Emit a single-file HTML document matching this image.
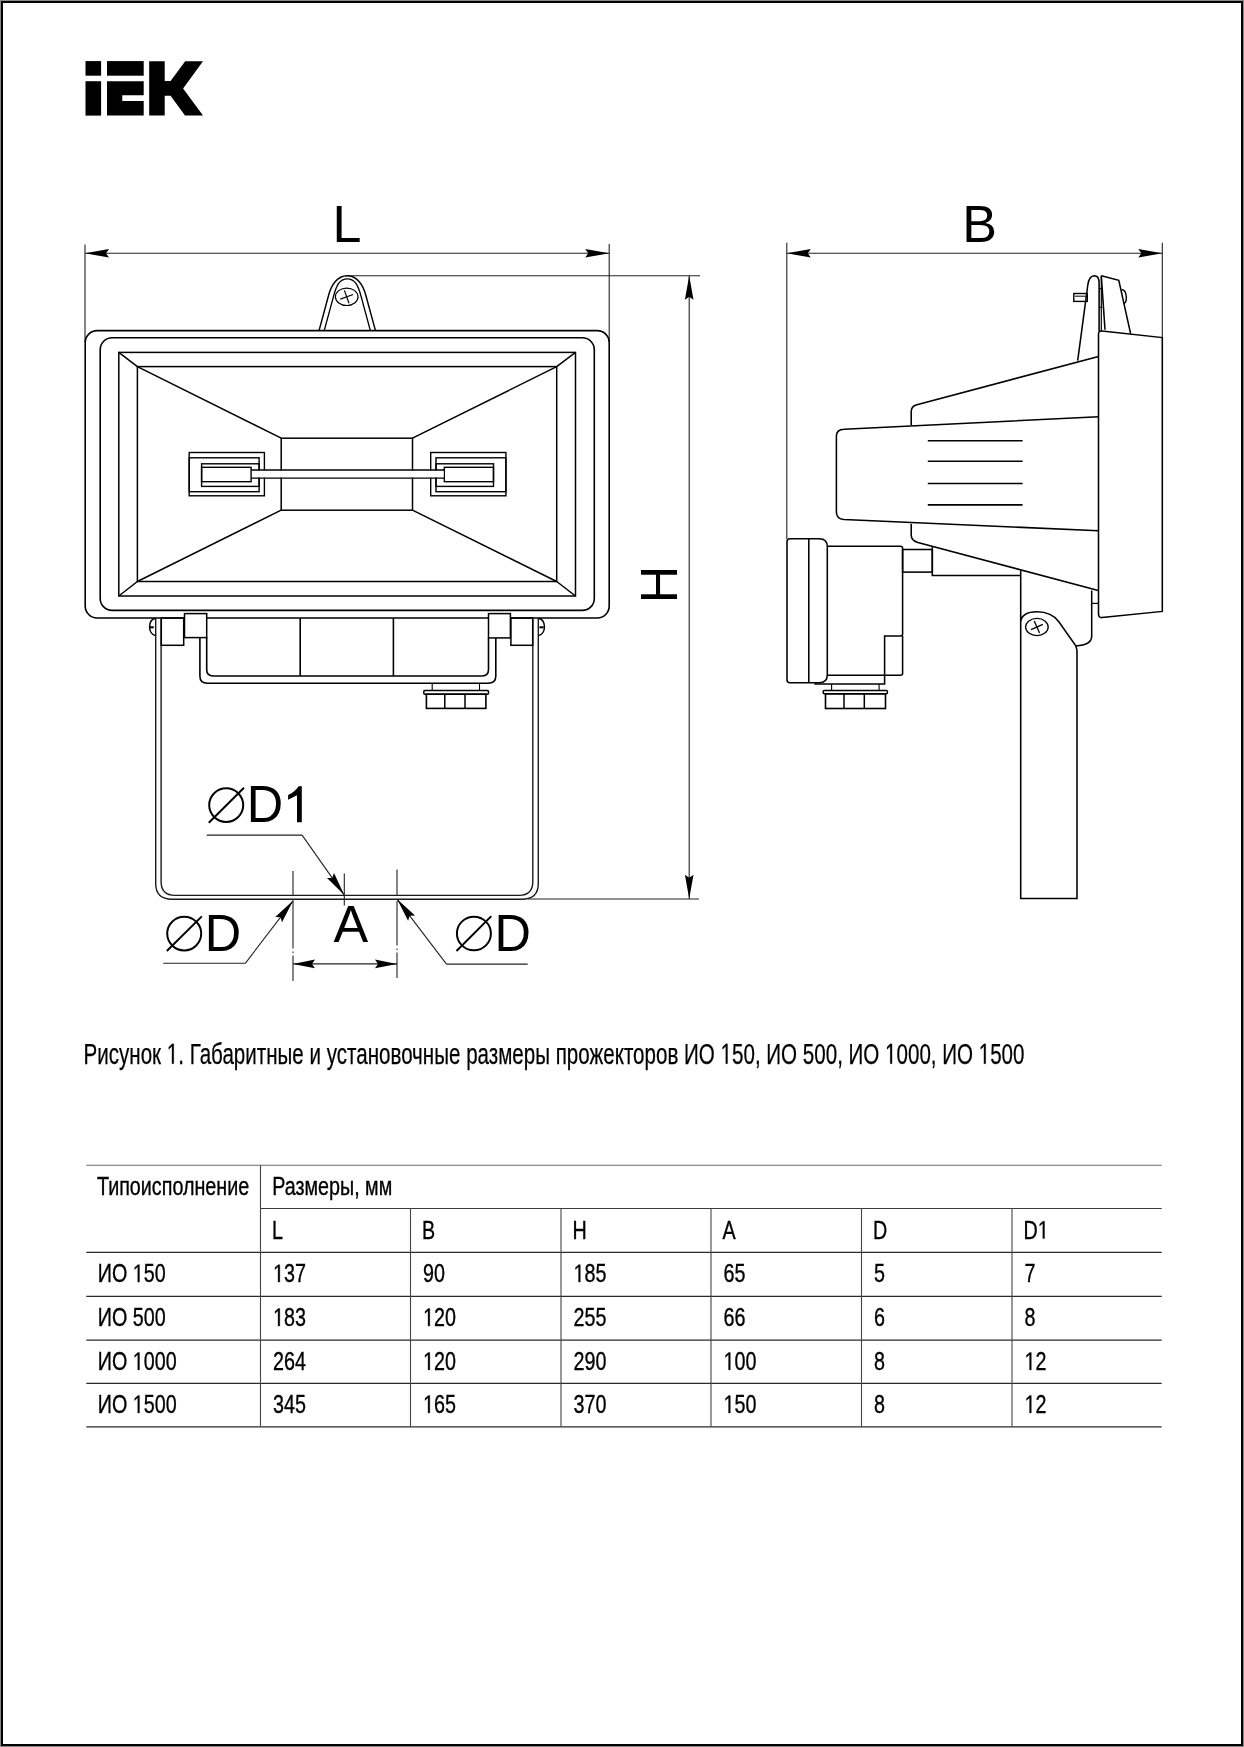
<!DOCTYPE html>
<html><head><meta charset="utf-8"><title>IEK</title>
<style>
html,body{margin:0;padding:0;background:#fff;}
body{width:1244px;height:1747px;overflow:hidden;}
svg{display:block;will-change:transform;}
text{font-family:"Liberation Sans",sans-serif;fill:#000;}
</style></head>
<body>
<svg width="1244" height="1747" viewBox="0 0 1244 1747">
<rect x="0" y="0" width="1244" height="1747" fill="#fff"/>
<!-- frame -->
<rect x="0.5" y="0.5" width="1243" height="1746" fill="none" stroke="#8a8a8a" stroke-width="1"/>
<rect x="2" y="2" width="1240" height="1743" fill="none" stroke="#000" stroke-width="2"/>
<!-- logo -->
<g fill="#000">
<rect x="85.5" y="61.1" width="15.6" height="14.6"/>
<rect x="85.5" y="81.2" width="15.6" height="34.4"/>
<rect x="107" y="61.1" width="36.7" height="14.6"/>
<path d="M107,81.2H143.7V95.3H122.3V101H143.7V115.6H107Z"/>
<path d="M149.2,61.2H164.7V81.1H170.6L185.2,61.2H203L183.1,88.4L203,115.6H185L170.6,95.8H164.7V115.6H149.2Z"/>
</g>
<!--DRAWING-->
<line x1="85" y1="244.5" x2="85" y2="342" stroke="#222" stroke-width="1.1" />
<line x1="609.2" y1="244" x2="609.2" y2="342" stroke="#222" stroke-width="1.1" />
<line x1="85" y1="253.3" x2="609.2" y2="253.3" stroke="#222" stroke-width="1.1" />
<path d="M85.0,253.3L109.0,249.0L106.0,253.3L109.0,257.6Z" fill="#000"/>
<path d="M609.2,253.3L585.2,257.6L588.2,253.3L585.2,249.0Z" fill="#000"/>
<line x1="346.5" y1="275.8" x2="700" y2="275.8" stroke="#222" stroke-width="1.1" />
<line x1="528" y1="899" x2="699" y2="899" stroke="#222" stroke-width="1.1" />
<line x1="689.2" y1="275.8" x2="689.2" y2="899" stroke="#222" stroke-width="1.1" />
<path d="M689.2,275.8L693.5,299.8L689.2,296.8L684.9,299.8Z" fill="#000"/>
<path d="M689.2,898.8L684.9,874.8L689.2,877.8L693.5,874.8Z" fill="#000"/>
<path d="M319.1,330.4 L328.6,295.3 C331.2,285.3 337.2,275.8 347.2,275.8 C357.2,275.8 363.2,285.3 365.8,295.3 L375.4,330.4" stroke="#000" stroke-width="1.45" fill="none" />
<path d="M324.3,330.4 L333.6,296.1 C336.3,286.1 339.3,278.8 347.3,278.8 C355.3,278.8 358.3,286.1 361,296.1 L370.3,330.4" stroke="#000" stroke-width="1.35" fill="none" />
<ellipse cx="346.7" cy="296.8" rx="11.3" ry="8.7" fill="#fff" stroke="none"/>
<ellipse cx="346.7" cy="296.8" rx="11.3" ry="8.7" stroke="#000" stroke-width="1.2" fill="none"/>
<line x1="340.3" y1="299.1" x2="353.1" y2="294.5" stroke="#000" stroke-width="1.2" />
<line x1="344.4" y1="290.4" x2="349.0" y2="303.2" stroke="#000" stroke-width="1.2" />
<rect x="85.2" y="330.6" width="524.0" height="287.4" rx="12" stroke="#000" stroke-width="1.6" fill="none"/>
<rect x="100.2" y="337.7" width="494.1" height="272.7" rx="12" stroke="#000" stroke-width="1.6" fill="none"/>
<rect x="118.8" y="352.4" width="456.7" height="243.6" rx="0" stroke="#000" stroke-width="1.5" fill="none"/>
<rect x="137.4" y="366.6" width="419.3" height="214.9" rx="0" stroke="#000" stroke-width="1.5" fill="none"/>
<line x1="118.8" y1="352.4" x2="137.4" y2="366.6" stroke="#000" stroke-width="1.5" />
<line x1="575.5" y1="352.4" x2="556.7" y2="366.6" stroke="#000" stroke-width="1.5" />
<line x1="118.8" y1="596" x2="137.4" y2="581.5" stroke="#000" stroke-width="1.5" />
<line x1="575.5" y1="596" x2="556.7" y2="581.5" stroke="#000" stroke-width="1.5" />
<rect x="281.2" y="438.2" width="131.3" height="72.0" rx="0" stroke="#000" stroke-width="1.5" fill="none"/>
<line x1="137.4" y1="366.6" x2="281.2" y2="438.2" stroke="#000" stroke-width="1.5" />
<line x1="556.7" y1="366.6" x2="412.5" y2="438.2" stroke="#000" stroke-width="1.5" />
<line x1="137.4" y1="581.5" x2="281.2" y2="510.2" stroke="#000" stroke-width="1.5" />
<line x1="556.7" y1="581.5" x2="412.5" y2="510.2" stroke="#000" stroke-width="1.5" />
<rect x="189.2" y="452.5" width="75.2" height="43.3" rx="0" stroke="#000" stroke-width="1.4" fill="none"/>
<rect x="189.2" y="457.8" width="69.9" height="33.9" rx="0" stroke="#000" stroke-width="1.4" fill="none"/>
<rect x="201.6" y="463.8" width="57.5" height="22.6" rx="0" stroke="#000" stroke-width="1.4" fill="none"/>
<rect x="201.6" y="467.3" width="49.5" height="14.4" rx="0" stroke="#000" stroke-width="1.4" fill="none"/>
<rect x="430.7" y="452.5" width="75.2" height="43.3" rx="0" stroke="#000" stroke-width="1.4" fill="none"/>
<rect x="436.0" y="457.8" width="69.9" height="33.9" rx="0" stroke="#000" stroke-width="1.4" fill="none"/>
<rect x="436.0" y="463.8" width="57.5" height="22.6" rx="0" stroke="#000" stroke-width="1.4" fill="none"/>
<rect x="444.3" y="467.3" width="49.2" height="14.4" rx="0" stroke="#000" stroke-width="1.4" fill="none"/>
<rect x="252" y="470.5" width="191.5" height="7.1" fill="#fff"/>
<line x1="251.1" y1="470" x2="444.3" y2="470" stroke="#000" stroke-width="1.4" />
<line x1="251.1" y1="478.1" x2="444.3" y2="478.1" stroke="#000" stroke-width="1.4" />
<path d="M155.5,618.3 C147.6,620 147.6,634 155.5,635.6" stroke="#000" stroke-width="1.5" fill="none" />
<rect x="149.6" y="626.3" width="4.2" height="2.0" fill="#000"/>
<path d="M538.5,618.3 C546.4,620 546.4,634 538.5,635.6" stroke="#000" stroke-width="1.5" fill="none" />
<rect x="539.4" y="626.3" width="4.2" height="2.0" fill="#000"/>
<path d="M155.7,618 V883.5 Q155.7,899.2 172,899.2 H522 Q538.3,899.2 538.3,883.5 V618" stroke="#1a1a1a" stroke-width="1.4" fill="none" />
<path d="M161.1,618 V881.5 Q161.1,895.4 175,895.4 H519 Q532.8,895.4 532.8,881.5 V618" stroke="#1a1a1a" stroke-width="1.4" fill="none" />
<rect x="161.3" y="618" width="22.4" height="27.3" rx="0" stroke="#000" stroke-width="1.5" fill="none"/>
<rect x="184.5" y="613.6" width="22.2" height="24.0" rx="0" stroke="#000" stroke-width="1.5" fill="#fff"/>
<rect x="488.5" y="613.6" width="21.9" height="24.3" rx="0" stroke="#000" stroke-width="1.5" fill="#fff"/>
<rect x="510.9" y="618" width="21.8" height="27.3" rx="0" stroke="#000" stroke-width="1.5" fill="none"/>
<path d="M199.9,637.6 V676 Q199.9,683.3 207.5,683.3 H488 Q495.8,683.3 495.8,676 V637.9" stroke="#000" stroke-width="1.6" fill="none" />
<path d="M206.7,637.6 V669.5 Q206.7,676 213.2,676 H482 Q488.5,676 488.5,669.5 V637.9" stroke="#000" stroke-width="1.6" fill="none" />
<line x1="300.2" y1="618" x2="300.2" y2="676" stroke="#000" stroke-width="1.6" />
<line x1="393.4" y1="618" x2="393.4" y2="676" stroke="#000" stroke-width="1.6" />
<line x1="432.2" y1="683.3" x2="432.2" y2="690.4" stroke="#000" stroke-width="1.1" />
<line x1="479.5" y1="683.3" x2="479.5" y2="690.4" stroke="#000" stroke-width="1.1" />
<rect x="423.8" y="690.4" width="64.7" height="3.8" rx="1" stroke="#000" stroke-width="1.5" fill="none"/>
<rect x="426.4" y="694.2" width="59.5" height="14.2" rx="0" stroke="#000" stroke-width="1.6" fill="none"/>
<line x1="444.8" y1="694.2" x2="444.8" y2="708.4" stroke="#000" stroke-width="1.5" />
<line x1="465.0" y1="694.2" x2="465.0" y2="708.4" stroke="#000" stroke-width="1.5" />
<ellipse cx="226.2" cy="805.1" rx="17.0" ry="16.8" stroke="#000" stroke-width="2.0" fill="none"/>
<line x1="208.8" y1="822.8" x2="244.0" y2="787.8" stroke="#000" stroke-width="2.0" />
<text transform="translate(246.7,822.3) scale(0.97,1)" font-size="52">D</text>
<path d="M301.8,786.2 V822.3 H297 V795.2 L288.1,799.7 V795.0 C293,792.6 296.5,789.8 298.6,786.2 Z" fill="#000"/>
<line x1="206.7" y1="835.1" x2="302.1" y2="835.1" stroke="#222" stroke-width="1.1" />
<line x1="302.1" y1="835.1" x2="344.3" y2="895.1" stroke="#222" stroke-width="1.1" />
<path d="M344.3,895.1L327.0,877.9L332.2,877.9L334.0,873.0Z" fill="#000"/>
<line x1="344.3" y1="873.4" x2="344.3" y2="905.6" stroke="#222" stroke-width="1.1" />
<ellipse cx="184.2" cy="933.6" rx="17.0" ry="16.8" stroke="#000" stroke-width="2.0" fill="none"/>
<line x1="166.8" y1="951.0" x2="201.8" y2="916.4" stroke="#000" stroke-width="2.0" />
<text transform="translate(204.8,951.0) scale(0.97,1)" font-size="52">D</text>
<line x1="163.3" y1="963.3" x2="245.3" y2="963.3" stroke="#222" stroke-width="1.1" />
<line x1="245.3" y1="963.3" x2="293.2" y2="900.6" stroke="#222" stroke-width="1.1" />
<path d="M293.2,900.6L282.0,922.3L280.5,917.3L275.2,917.1Z" fill="#000"/>
<ellipse cx="473.9" cy="933.5" rx="17.0" ry="16.8" stroke="#000" stroke-width="2.0" fill="none"/>
<line x1="456.5" y1="951.0" x2="491.3" y2="916.1" stroke="#000" stroke-width="2.0" />
<text transform="translate(494.4,951.0) scale(0.97,1)" font-size="52">D</text>
<line x1="446.5" y1="964.1" x2="527.7" y2="964.1" stroke="#222" stroke-width="1.1" />
<line x1="397" y1="899.1" x2="446.5" y2="964.1" stroke="#222" stroke-width="1.1" />
<path d="M397.0,899.1L415.0,915.6L409.7,915.8L408.1,920.8Z" fill="#000"/>
<text transform="translate(333.5,941.8) scale(1.0,1)" font-size="52">A</text>
<line x1="293" y1="963.9" x2="397" y2="963.9" stroke="#222" stroke-width="1.1" />
<path d="M293.0,963.9L315.0,959.6L312.0,963.9L315.0,968.2Z" fill="#000"/>
<path d="M397.0,963.9L375.0,968.2L378.0,963.9L375.0,959.6Z" fill="#000"/>
<line x1="293" y1="871" x2="293" y2="896" stroke="#222" stroke-width="1.1" />
<line x1="293" y1="900.5" x2="293" y2="948.5" stroke="#222" stroke-width="1.1" />
<line x1="293" y1="951.5" x2="293" y2="953" stroke="#222" stroke-width="1.1" />
<line x1="293" y1="955.5" x2="293" y2="981" stroke="#222" stroke-width="1.1" />
<line x1="397" y1="869.4" x2="397" y2="896" stroke="#222" stroke-width="1.1" />
<line x1="397" y1="901" x2="397" y2="945.5" stroke="#222" stroke-width="1.1" />
<line x1="397" y1="948.5" x2="397" y2="950" stroke="#222" stroke-width="1.1" />
<line x1="397" y1="952.5" x2="397" y2="978" stroke="#222" stroke-width="1.1" />
<text transform="translate(332.5,241.6) scale(1.0,1)" font-size="52">L</text>
<text x="0" y="0" font-size="52" transform="translate(677,603.2) rotate(-90)">H</text>
<line x1="786.8" y1="242.7" x2="786.8" y2="539" stroke="#222" stroke-width="1.1" />
<line x1="1162.3" y1="242.7" x2="1162.3" y2="338" stroke="#222" stroke-width="1.1" />
<line x1="786.8" y1="253.3" x2="1162.3" y2="253.3" stroke="#222" stroke-width="1.1" />
<path d="M786.8,253.3L810.8,249.0L807.8,253.3L810.8,257.6Z" fill="#000"/>
<path d="M1162.3,253.3L1138.3,257.6L1141.3,253.3L1138.3,249.0Z" fill="#000"/>
<text transform="translate(962.3,241.6) scale(1.0,1)" font-size="52">B</text>
<path d="M1098.5,334 Q1098.5,330.8 1102,331 L1162.3,337.6 V611.4 L1102,617.6 Q1098.5,617.8 1098.5,614 Z" stroke="#000" stroke-width="1.55" fill="none" />
<path d="M911.2,424.9 V412 Q911.2,406.5 916,405 L1098.5,356.4" stroke="#000" stroke-width="1.55" fill="none" />
<path d="M844.1,429.2 L1098.5,416.7 M1098.5,530.7 L844,519.6 Q836.4,519 836.4,512 V436 Q836.4,429.5 844.1,429.2" stroke="#000" stroke-width="1.55" fill="none" />
<line x1="927.8" y1="440.8" x2="1022.6" y2="440.8" stroke="#000" stroke-width="1.6" />
<line x1="927.8" y1="461.3" x2="1022.6" y2="461.3" stroke="#000" stroke-width="1.6" />
<line x1="927.8" y1="483.5" x2="1022.6" y2="483.5" stroke="#000" stroke-width="1.6" />
<line x1="927.8" y1="504.9" x2="1022.6" y2="504.9" stroke="#000" stroke-width="1.6" />
<path d="M911.2,523.7 V535.3 Q911.2,540.5 917.9,542.5 L1098.3,590.5" stroke="#000" stroke-width="1.55" fill="none" />
<rect x="902.6" y="549.5" width="29.7" height="22.6" rx="0" stroke="#000" stroke-width="1.55" fill="none"/>
<path d="M932.3,547.1 V575.4 H1020.7" stroke="#000" stroke-width="1.55" fill="none" />
<path d="M790,538.8 H819.3 Q827.3,538.8 827.3,546.8 V674.7 Q827.3,682.7 819.3,682.7 H790 Q787,682.7 787,679.7 V541.8 Q787,538.8 790,538.8 Z" stroke="#000" stroke-width="1.55" fill="none" />
<line x1="808.8" y1="538.8" x2="808.8" y2="682.7" stroke="#000" stroke-width="1.55" />
<path d="M827.3,546.2 H900.6 Q902.6,546.2 902.6,548.2 V633.9 Q902.6,635.9 900.6,635.9 H884.6 V684 H814.4" stroke="#000" stroke-width="1.55" fill="none" />
<path d="M902.6,635.9 V673.3 Q902.6,675.3 900.6,675.3 H827.3" stroke="#000" stroke-width="1.55" fill="none" />
<line x1="831.6" y1="684" x2="831.6" y2="690.4" stroke="#000" stroke-width="1.1" />
<line x1="879.1" y1="684" x2="879.1" y2="690.4" stroke="#000" stroke-width="1.1" />
<rect x="823.2" y="690.4" width="64.2" height="3.4" rx="1" stroke="#000" stroke-width="1.5" fill="none"/>
<rect x="825.5" y="693.8" width="60.0" height="14.7" rx="0" stroke="#000" stroke-width="1.6" fill="none"/>
<line x1="844" y1="693.8" x2="844" y2="708.5" stroke="#000" stroke-width="1.5" />
<line x1="864.3" y1="693.8" x2="864.3" y2="708.5" stroke="#000" stroke-width="1.5" />
<path d="M1077.7,360.7 L1087.8,285 Q1089,276 1094.5,275.8 Q1099.1,276 1099.1,283 V331" stroke="#000" stroke-width="1.55" fill="none" />
<line x1="1101.3" y1="276" x2="1101.3" y2="331" stroke="#000" stroke-width="1.2" />
<path d="M1101.3,275.8 L1118.8,280.3 L1130.6,333.7" stroke="#000" stroke-width="1.55" fill="none" />
<line x1="1101.3" y1="275.8" x2="1105" y2="329.8" stroke="#000" stroke-width="1.55" />
<line x1="1099.1" y1="288.7" x2="1102.3" y2="288.7" stroke="#000" stroke-width="1.1" />
<line x1="1099.1" y1="307.3" x2="1102.3" y2="307.3" stroke="#000" stroke-width="1.1" />
<rect x="1073.8" y="293.5" width="13.5" height="7.9" rx="0" stroke="#000" stroke-width="1.4" fill="none"/>
<line x1="1075" y1="296.2" x2="1087.3" y2="296.2" stroke="#000" stroke-width="1.0" />
<path d="M1121.6,289.5 C1127.5,290 1127.5,303 1123.5,303.5" stroke="#000" stroke-width="1.4" fill="none" />
<path d="M1020.7,570.7 V898.5 H1077 V650.3 L1075.8,645.9 L1059,622 C1054,615 1047,611.8 1037,611.8 C1028,611.8 1021.5,615 1020.7,622" stroke="#000" stroke-width="1.55" fill="none" />
<path d="M1075.8,645.9 Q1091.7,645 1091.7,636.2 V590.5" stroke="#000" stroke-width="1.55" fill="none" />
<line x1="1091.7" y1="603.4" x2="1098.3" y2="603.4" stroke="#000" stroke-width="1.2" />
<ellipse cx="1036.9" cy="627" rx="11.3" ry="8.6" stroke="#000" stroke-width="1.3" fill="none"/>
<line x1="1031.0" y1="629.7" x2="1042.8" y2="624.3" stroke="#000" stroke-width="1.3" />
<line x1="1034.2" y1="621.1" x2="1039.6" y2="632.9" stroke="#000" stroke-width="1.3" />
<!--TABLE-->
<line x1="86.3" y1="1165.3" x2="1161.7" y2="1165.3" stroke="#6a6a6a" stroke-width="1.1"/>
<line x1="260.5" y1="1208.5" x2="1161.7" y2="1208.5" stroke="#3a3a3a" stroke-width="1.1"/>
<line x1="86.3" y1="1252.4" x2="1161.7" y2="1252.4" stroke="#2a2a2a" stroke-width="1.2"/>
<line x1="86.3" y1="1296.3" x2="1161.7" y2="1296.3" stroke="#2a2a2a" stroke-width="1.2"/>
<line x1="86.3" y1="1340.2" x2="1161.7" y2="1340.2" stroke="#2a2a2a" stroke-width="1.2"/>
<line x1="86.3" y1="1383.3" x2="1161.7" y2="1383.3" stroke="#2a2a2a" stroke-width="1.2"/>
<line x1="86.3" y1="1426.8" x2="1161.7" y2="1426.8" stroke="#2a2a2a" stroke-width="1.2"/>
<line x1="260.5" y1="1165.3" x2="260.5" y2="1426.8" stroke="#444" stroke-width="1.1"/>
<line x1="410.5" y1="1208.5" x2="410.5" y2="1426.8" stroke="#444" stroke-width="1.1"/>
<line x1="561" y1="1208.5" x2="561" y2="1426.8" stroke="#444" stroke-width="1.1"/>
<line x1="711" y1="1208.5" x2="711" y2="1426.8" stroke="#444" stroke-width="1.1"/>
<line x1="861.5" y1="1208.5" x2="861.5" y2="1426.8" stroke="#444" stroke-width="1.1"/>
<line x1="1012" y1="1208.5" x2="1012" y2="1426.8" stroke="#444" stroke-width="1.1"/>
<text id="tx0" transform="translate(97.0,1194.9) scale(0.778,1)" font-size="25.35" stroke="#000" stroke-width="0.35">Типоисполнение</text>

<text id="tx1" transform="translate(272.2,1194.9) scale(0.778,1)" font-size="25.35" stroke="#000" stroke-width="0.35">Размеры, мм</text>

<text id="tx2" transform="translate(272.1,1238.6) scale(0.778,1)" font-size="25.35" stroke="#000" stroke-width="0.35">L</text>

<text id="tx3" transform="translate(422.1,1238.6) scale(0.778,1)" font-size="25.35" stroke="#000" stroke-width="0.35">B</text>

<text id="tx4" transform="translate(572.6,1238.6) scale(0.778,1)" font-size="25.35" stroke="#000" stroke-width="0.35">H</text>

<text id="tx5" transform="translate(722.6,1238.6) scale(0.778,1)" font-size="25.35" stroke="#000" stroke-width="0.35">A</text>

<text id="tx6" transform="translate(873.1,1238.6) scale(0.778,1)" font-size="25.35" stroke="#000" stroke-width="0.35">D</text>

<text id="tx7" transform="translate(1023.6,1238.6) scale(0.778,1)" font-size="25.35" stroke="#000" stroke-width="0.35">D </text>
<path transform="translate(1023.6,1238.6) scale(0.778,1) translate(18.295,0.000) scale(0.012378,-0.012378)" d="M515,0 L515,1237 L197,1010 L197,1180 L530,1409 L696,1409 L696,0 Z" fill="#000" stroke="#000" stroke-width="28.3"/>
<text id="tx8" transform="translate(97.8,1282.1000000000001) scale(0.778,1)" font-size="25.35" stroke="#000" stroke-width="0.35">ИО  50</text>
<path transform="translate(97.8,1282.1000000000001) scale(0.778,1) translate(44.962,0.000) scale(0.012378,-0.012378)" d="M515,0 L515,1237 L197,1010 L197,1180 L530,1409 L696,1409 L696,0 Z" fill="#000" stroke="#000" stroke-width="28.3"/>
<text id="tx9" transform="translate(273.1,1282.1000000000001) scale(0.778,1)" font-size="25.35" stroke="#000" stroke-width="0.35"> 37</text>
<path transform="translate(273.1,1282.1000000000001) scale(0.778,1) translate(0.000,0.000) scale(0.012378,-0.012378)" d="M515,0 L515,1237 L197,1010 L197,1180 L530,1409 L696,1409 L696,0 Z" fill="#000" stroke="#000" stroke-width="28.3"/>
<text id="tx10" transform="translate(423.1,1282.1000000000001) scale(0.778,1)" font-size="25.35" stroke="#000" stroke-width="0.35">90</text>

<text id="tx11" transform="translate(573.6,1282.1000000000001) scale(0.778,1)" font-size="25.35" stroke="#000" stroke-width="0.35"> 85</text>
<path transform="translate(573.6,1282.1000000000001) scale(0.778,1) translate(0.000,0.000) scale(0.012378,-0.012378)" d="M515,0 L515,1237 L197,1010 L197,1180 L530,1409 L696,1409 L696,0 Z" fill="#000" stroke="#000" stroke-width="28.3"/>
<text id="tx12" transform="translate(723.6,1282.1000000000001) scale(0.778,1)" font-size="25.35" stroke="#000" stroke-width="0.35">65</text>

<text id="tx13" transform="translate(874.1,1282.1000000000001) scale(0.778,1)" font-size="25.35" stroke="#000" stroke-width="0.35">5</text>

<text id="tx14" transform="translate(1024.6,1282.1000000000001) scale(0.778,1)" font-size="25.35" stroke="#000" stroke-width="0.35">7</text>

<text id="tx15" transform="translate(97.8,1326.0) scale(0.778,1)" font-size="25.35" stroke="#000" stroke-width="0.35">ИО 500</text>

<text id="tx16" transform="translate(273.1,1326.0) scale(0.778,1)" font-size="25.35" stroke="#000" stroke-width="0.35"> 83</text>
<path transform="translate(273.1,1326.0) scale(0.778,1) translate(0.000,0.000) scale(0.012378,-0.012378)" d="M515,0 L515,1237 L197,1010 L197,1180 L530,1409 L696,1409 L696,0 Z" fill="#000" stroke="#000" stroke-width="28.3"/>
<text id="tx17" transform="translate(423.1,1326.0) scale(0.778,1)" font-size="25.35" stroke="#000" stroke-width="0.35"> 20</text>
<path transform="translate(423.1,1326.0) scale(0.778,1) translate(0.000,0.000) scale(0.012378,-0.012378)" d="M515,0 L515,1237 L197,1010 L197,1180 L530,1409 L696,1409 L696,0 Z" fill="#000" stroke="#000" stroke-width="28.3"/>
<text id="tx18" transform="translate(573.6,1326.0) scale(0.778,1)" font-size="25.35" stroke="#000" stroke-width="0.35">255</text>

<text id="tx19" transform="translate(723.6,1326.0) scale(0.778,1)" font-size="25.35" stroke="#000" stroke-width="0.35">66</text>

<text id="tx20" transform="translate(874.1,1326.0) scale(0.778,1)" font-size="25.35" stroke="#000" stroke-width="0.35">6</text>

<text id="tx21" transform="translate(1024.6,1326.0) scale(0.778,1)" font-size="25.35" stroke="#000" stroke-width="0.35">8</text>

<text id="tx22" transform="translate(97.8,1369.9) scale(0.778,1)" font-size="25.35" stroke="#000" stroke-width="0.35">ИО  000</text>
<path transform="translate(97.8,1369.9) scale(0.778,1) translate(44.962,0.000) scale(0.012378,-0.012378)" d="M515,0 L515,1237 L197,1010 L197,1180 L530,1409 L696,1409 L696,0 Z" fill="#000" stroke="#000" stroke-width="28.3"/>
<text id="tx23" transform="translate(273.1,1369.9) scale(0.778,1)" font-size="25.35" stroke="#000" stroke-width="0.35">264</text>

<text id="tx24" transform="translate(423.1,1369.9) scale(0.778,1)" font-size="25.35" stroke="#000" stroke-width="0.35"> 20</text>
<path transform="translate(423.1,1369.9) scale(0.778,1) translate(0.000,0.000) scale(0.012378,-0.012378)" d="M515,0 L515,1237 L197,1010 L197,1180 L530,1409 L696,1409 L696,0 Z" fill="#000" stroke="#000" stroke-width="28.3"/>
<text id="tx25" transform="translate(573.6,1369.9) scale(0.778,1)" font-size="25.35" stroke="#000" stroke-width="0.35">290</text>

<text id="tx26" transform="translate(723.6,1369.9) scale(0.778,1)" font-size="25.35" stroke="#000" stroke-width="0.35"> 00</text>
<path transform="translate(723.6,1369.9) scale(0.778,1) translate(0.000,0.000) scale(0.012378,-0.012378)" d="M515,0 L515,1237 L197,1010 L197,1180 L530,1409 L696,1409 L696,0 Z" fill="#000" stroke="#000" stroke-width="28.3"/>
<text id="tx27" transform="translate(874.1,1369.9) scale(0.778,1)" font-size="25.35" stroke="#000" stroke-width="0.35">8</text>

<text id="tx28" transform="translate(1024.6,1369.9) scale(0.778,1)" font-size="25.35" stroke="#000" stroke-width="0.35"> 2</text>
<path transform="translate(1024.6,1369.9) scale(0.778,1) translate(0.000,0.000) scale(0.012378,-0.012378)" d="M515,0 L515,1237 L197,1010 L197,1180 L530,1409 L696,1409 L696,0 Z" fill="#000" stroke="#000" stroke-width="28.3"/>
<text id="tx29" transform="translate(97.8,1413.0) scale(0.778,1)" font-size="25.35" stroke="#000" stroke-width="0.35">ИО  500</text>
<path transform="translate(97.8,1413.0) scale(0.778,1) translate(44.962,0.000) scale(0.012378,-0.012378)" d="M515,0 L515,1237 L197,1010 L197,1180 L530,1409 L696,1409 L696,0 Z" fill="#000" stroke="#000" stroke-width="28.3"/>
<text id="tx30" transform="translate(273.1,1413.0) scale(0.778,1)" font-size="25.35" stroke="#000" stroke-width="0.35">345</text>

<text id="tx31" transform="translate(423.1,1413.0) scale(0.778,1)" font-size="25.35" stroke="#000" stroke-width="0.35"> 65</text>
<path transform="translate(423.1,1413.0) scale(0.778,1) translate(0.000,0.000) scale(0.012378,-0.012378)" d="M515,0 L515,1237 L197,1010 L197,1180 L530,1409 L696,1409 L696,0 Z" fill="#000" stroke="#000" stroke-width="28.3"/>
<text id="tx32" transform="translate(573.6,1413.0) scale(0.778,1)" font-size="25.35" stroke="#000" stroke-width="0.35">370</text>

<text id="tx33" transform="translate(723.6,1413.0) scale(0.778,1)" font-size="25.35" stroke="#000" stroke-width="0.35"> 50</text>
<path transform="translate(723.6,1413.0) scale(0.778,1) translate(0.000,0.000) scale(0.012378,-0.012378)" d="M515,0 L515,1237 L197,1010 L197,1180 L530,1409 L696,1409 L696,0 Z" fill="#000" stroke="#000" stroke-width="28.3"/>
<text id="tx34" transform="translate(874.1,1413.0) scale(0.778,1)" font-size="25.35" stroke="#000" stroke-width="0.35">8</text>

<text id="tx35" transform="translate(1024.6,1413.0) scale(0.778,1)" font-size="25.35" stroke="#000" stroke-width="0.35"> 2</text>
<path transform="translate(1024.6,1413.0) scale(0.778,1) translate(0.000,0.000) scale(0.012378,-0.012378)" d="M515,0 L515,1237 L197,1010 L197,1180 L530,1409 L696,1409 L696,0 Z" fill="#000" stroke="#000" stroke-width="28.3"/>
<text id="cap" x="83.5" y="1063.8" font-size="29" textLength="941" lengthAdjust="spacingAndGlyphs" stroke="#000" stroke-width="0.25">Рисунок  . Габаритные и установочные размеры прожекторов ИО  50, ИО 500, ИО  000, ИО  500</text>
<path transform="translate(166.781,1063.800) scale(0.010051,-0.014160)" d="M515,0 L515,1237 L197,1010 L197,1180 L530,1409 L696,1409 L696,0 Z" fill="#000" stroke="#000" stroke-width="17.7"/>
<path transform="translate(720.567,1063.800) scale(0.010060,-0.014160)" d="M515,0 L515,1237 L197,1010 L197,1180 L530,1409 L696,1409 L696,0 Z" fill="#000" stroke="#000" stroke-width="17.7"/>
<path transform="translate(885.056,1063.800) scale(0.010051,-0.014160)" d="M515,0 L515,1237 L197,1010 L197,1180 L530,1409 L696,1409 L696,0 Z" fill="#000" stroke="#000" stroke-width="17.7"/>
<path transform="translate(978.743,1063.800) scale(0.010051,-0.014160)" d="M515,0 L515,1237 L197,1010 L197,1180 L530,1409 L696,1409 L696,0 Z" fill="#000" stroke="#000" stroke-width="17.7"/>
</svg>
</body></html>
